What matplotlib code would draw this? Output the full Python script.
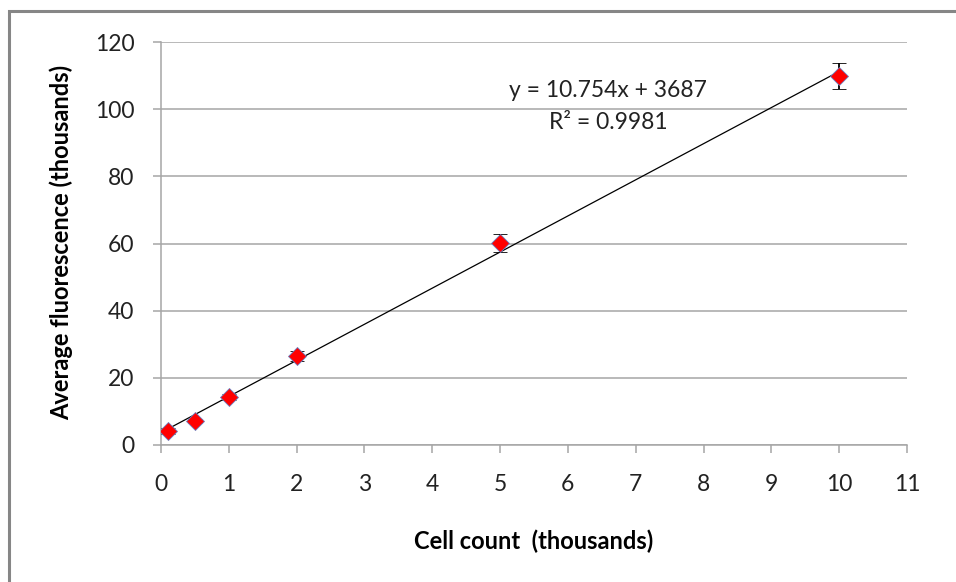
import matplotlib
matplotlib.use("Agg")
import matplotlib.pyplot as plt
from matplotlib.patches import Rectangle

# --- Data (thousands) ---
cell_count = [0.1, 0.5, 1, 2, 5, 10]
fluorescence = [4.2, 7.2, 14.3, 26.5, 60.1, 109.9]
errors = [0.8, 0.6, 0.8, 1.4, 2.6, 3.8]

slope = 10.754
intercept = 3.687
eq_text = "y = 10.754x + 3687"
r2_text = "R² = 0.9981"

x_ticks = list(range(0, 12))
y_ticks = [0, 20, 40, 60, 80, 100, 120]

# Lato is the closest installed match to Calibri
plt.rcParams['font.family'] = ['Lato', 'DejaVu Sans']

fig = plt.figure(figsize=(9.56, 5.82), dpi=100)
ax = fig.add_axes([0.1684, 0.2354, 0.7803, 0.6924])

# outer chart border (only left/top visible in the crop)
fig.patches.append(Rectangle((9 / 956, -0.1), 1.2, (582 - 11) / 582 + 0.1,
                             transform=fig.transFigure, fill=False,
                             edgecolor="#868686", linewidth=2.2))

# trendline across the data range
x0, x1 = min(cell_count), max(cell_count)
ax.plot([x0, x1], [slope * x0 + intercept, slope * x1 + intercept],
        color="black", linewidth=0.9, zorder=3)

ax.errorbar(cell_count, fluorescence, yerr=errors, fmt="D", color="black",
            ecolor="black", elinewidth=1.3, capsize=5, capthick=1.8,
            markerfacecolor="red", markeredgecolor="#6a7fc0",
            markeredgewidth=0.6, markersize=9.5, zorder=4)

ax.text(6.59, 105.7, eq_text, ha="center", va="center", fontsize=16.5, color="#222222")
ax.text(6.59, 96.0, r2_text, ha="center", va="center", fontsize=16.5, color="#222222")

ax.set_xlim(0, 11)
ax.set_ylim(0, 120)
ax.set_xticks(x_ticks)
ax.set_yticks(y_ticks)
ax.yaxis.grid(True, color="#a6a6a6", linewidth=1.1)
ax.set_axisbelow(True)

for side in ["top", "right"]:
    ax.spines[side].set_visible(False)
for side in ["left", "bottom"]:
    ax.spines[side].set_color("#a6a6a6")
    ax.spines[side].set_linewidth(1.1)
ax.tick_params(direction="out", length=6, width=1.1, color="#a6a6a6",
               labelsize=16.5, labelcolor="#222222")
ax.tick_params(axis="x", pad=15)
ax.tick_params(axis="y", pad=13)

ax.set_xlabel("Cell count  (thousands)", fontsize=17, fontweight="bold")
ax.set_ylabel("Average fluorescence (thousands)", fontsize=17, fontweight="bold")
ax.xaxis.set_label_coords(0.5 + (534 - 534) / 746, (445 - 530) / 403)
ax.yaxis.set_label_coords((73 - 161) / 746, 0.5 + (445 - 242 - 201.5) / 403)

fig.savefig("out.png", dpi=100)
